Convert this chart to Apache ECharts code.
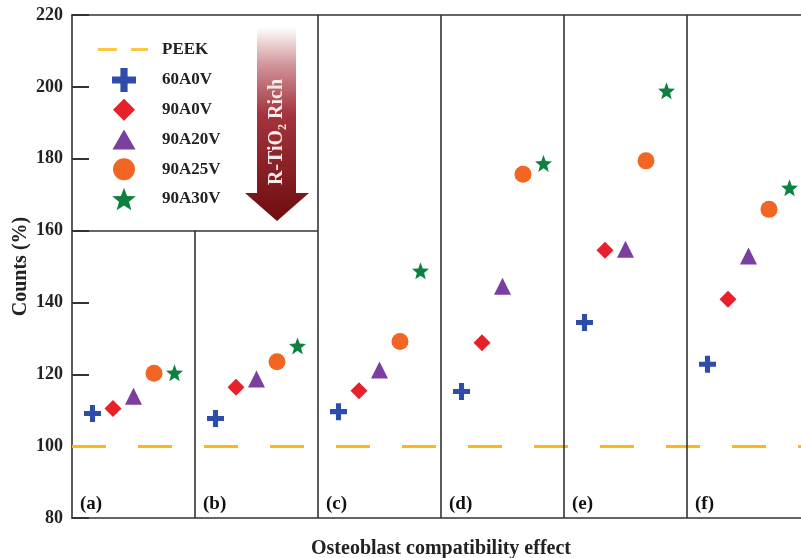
<!DOCTYPE html>
<html>
<head>
<meta charset="utf-8">
<script src="https://cdn.jsdelivr.net/npm/echarts@6/dist/echarts.min.js"></script>
<style>html,body{margin:0;padding:0;background:#fff}#c{width:801px;height:558px}</style>
</head>
<body>
<div id="c"></div>
<script>
// ---- data ----
var panelLabels = ['(a)', '(b)', '(c)', '(d)', '(e)', '(f)'];
var seriesNames = ['60A0V', '90A0V', '90A20V', '90A25V', '90A30V'];
var v60A0V  = [109.1, 107.7, 109.6, 115.2, 134.4, 122.8];
var v90A0V  = [110.5, 116.4, 115.4, 128.8, 154.5, 140.9];
var v90A20V = [113.9, 118.7, 121.2, 144.5, 154.8, 152.9];
var v90A25V = [120.3, 123.5, 129.1, 175.7, 179.4, 165.9];
var v90A30V = [120.4, 127.9, 148.8, 178.7, 198.9, 171.9];
var peekValue = 100;
var yTicks = [80, 100, 120, 140, 160, 180, 200, 220];

// ---- styles ----
var FONT = 'Liberation Serif';
var PEEK_COLOR = '#FDB913';
var colors = ['#2E4DA8', '#E8202A', '#7B3FA0', '#F26522', '#0E8040'];
var PLUS = 'path://M35,0H65V35H100V65H65V100H35V65H0V35H35Z';
var STAR = 'path://M100,0L124.7,66L195.1,69.1L139.9,113L158.8,180.9L100,142L41.2,180.9L60.1,113L4.9,69.1L75.3,66Z';
var symbols = [PLUS, 'diamond', 'triangle', 'circle', STAR];
var values = [v60A0V, v90A0V, v90A20V, v90A25V, v90A30V];

// legend icons drawn in a fixed frame (tiny corner dots pin the frame size)
var FRAME_PEEK = 'M59,1.5h0.01v0.01h-0.01z';
var FRAME = 'M0,0h0.01v0.01h-0.01zM65.99,25.99h0.01v0.01h-0.01z';
var DASHES = 'path://M0,0h19v3h-19zM33,0h17v3h-17z' + FRAME_PEEK;
var legendIcons = [
  'path://M29.4,1H36.6V9.4H45V16.6H36.6V25H29.4V16.6H21V9.4H29.4Z' + FRAME,
  'path://M33,2L44,13L33,24L22,13Z' + FRAME,
  'path://M33,3L44.5,23L21.5,23Z' + FRAME,
  'path://M44,13A11,11 0 1 1 22,13A11,11 0 1 1 44,13Z' + FRAME,
  'path://M33,1.7L36.09,9.95L44.89,10.34L37.99,15.83L40.35,24.31L33,19.45L25.65,24.31L28.01,15.83L21.11,10.34L29.91,9.95Z' + FRAME
];

var series = [];
// PEEK baseline (markLine on a scatter series so the legend icon can be custom)
series.push({
  name: 'PEEK', type: 'scatter', data: [], z: 5,
  itemStyle: { color: PEEK_COLOR },
  markLine: { silent: true, symbol: 'none', label: { show: false }, animation: false,
    lineStyle: { color: PEEK_COLOR, width: 3, type: [34, 32] },
    data: [[{ coord: [0, peekValue] }, { coord: [6, peekValue] }]] }
});
// panel separators
var sepData = [];
for (var p = 1; p < panelLabels.length; p++) {
  sepData.push([{ coord: [p, yTicks[0]] }, { coord: [p, p === 1 ? 160 : yTicks[yTicks.length - 1]] }]);
}
sepData.push([{ coord: [0, 160] }, { coord: [2, 160] }]);
series.push({
  name: 'sep', type: 'scatter', data: [], silent: true, z: 3,
  markLine: { silent: true, symbol: 'none', label: { show: false },
    lineStyle: { color: '#333', width: 1.6, type: 'solid' }, data: sepData, animation: false }
});
// marker series
for (var k = 0; k < seriesNames.length; k++) {
  var d = [];
  for (var i = 0; i < panelLabels.length; i++) d.push([i + (k + 1) / 6, values[k][i]]);
  series.push({
    name: seriesNames[k], type: 'scatter', symbol: symbols[k], symbolSize: 17, z: 10,
    itemStyle: { color: colors[k], opacity: 1 }, data: d
  });
}
// panel labels
var lab = [];
for (var i = 0; i < panelLabels.length; i++) lab.push({ value: [i + 0.065, 83.8], name: panelLabels[i] });
series.push({
  name: 'labels', type: 'scatter', symbolSize: 0, silent: true, data: lab,
  itemStyle: { opacity: 1, color: '#111' },
  label: { show: true, position: 'right', distance: 0, opacity: 1, formatter: function (p) { return p.name; },
    fontFamily: FONT, fontWeight: 'bold', fontSize: 19, color: '#111' }
});

var legendText = { fontFamily: FONT, fontWeight: 'bold', fontSize: 17, color: '#222' };
var legendData = seriesNames.map(function (n, k) {
  return { name: n, icon: legendIcons[k], itemStyle: { color: colors[k] } };
});
var option = {
  animation: false,
  backgroundColor: '#fff',
  grid: { left: 72, top: 15, right: -9, bottom: 40, outerBoundsMode: 'none', containLabel: false, show: false },
  xAxis: [{
    type: 'value', min: 0, max: 6, interval: 1, position: 'bottom',
    axisLine: { show: true, onZero: false, lineStyle: { color: '#333', width: 1.6 } },
    axisTick: { show: false }, axisLabel: { show: false }, splitLine: { show: false },
    name: 'Osteoblast compatibility effect', nameLocation: 'middle', nameGap: 21, nameMoveOverlap: false,
    nameTextStyle: { fontFamily: FONT, fontWeight: 'bold', fontSize: 20, color: '#222' }
  }, {
    type: 'value', min: 0, max: 6, interval: 1, position: 'top',
    axisLine: { show: true, onZero: false, lineStyle: { color: '#333', width: 1.6 } },
    axisTick: { show: false }, axisLabel: { show: false }, splitLine: { show: false }
  }],
  yAxis: {
    type: 'value', min: 80, max: 220, interval: 20,
    axisLine: { show: true, onZero: false, lineStyle: { color: '#333', width: 1.6 } },
    axisTick: { show: true, inside: true, length: 17, lineStyle: { color: '#333', width: 2 } },
    axisLabel: { margin: 9, fontFamily: FONT, fontWeight: 'bold', fontSize: 18, color: '#222' },
    splitLine: { show: false },
    name: 'Counts (%)', nameLocation: 'middle', nameGap: 41, nameMoveOverlap: false,
    nameTextStyle: { fontFamily: FONT, fontWeight: 'bold', fontSize: 20, color: '#222' }
  },
  legend: [
    { data: [{ name: 'PEEK', icon: DASHES, itemStyle: { color: PEEK_COLOR } }],
      left: 98, top: 41, padding: 0, itemWidth: 59, itemHeight: 14,
      textStyle: legendText, selectedMode: false },
    { data: legendData, orient: 'vertical', left: 91, top: 67, padding: 0, itemWidth: 66, itemHeight: 26, itemGap: 3.75,
      textStyle: legendText, selectedMode: false }
  ],
  graphic: [
    { type: 'polygon', z: 20,
      shape: { points: [[257, 27], [296, 27], [296, 193], [309, 193], [277, 221], [245, 193], [257, 193]] },
      style: { fill: new echarts.graphic.LinearGradient(0, 0, 0, 1, [
        { offset: 0, color: '#ffffff' },
        { offset: 0.2, color: '#cf9398' },
        { offset: 0.45, color: '#a3343d' },
        { offset: 1, color: '#6e0d0f' }]) } },
    { type: 'text', z: 21, x: 277, y: 132, rotation: Math.PI / 2,
      style: { text: '{a|R-TiO}{s|2}{a| Rich}', align: 'center', verticalAlign: 'middle', fill: '#fbeaea',
        rich: { a: { fontFamily: FONT, fontWeight: 'bold', fontSize: 20, fill: '#fbeaea' },
                s: { fontFamily: FONT, fontWeight: 'bold', fontSize: 12, fill: '#fbeaea', padding: [12, 0, 0, 0] } } } }
  ],
  series: series
};
var chart = echarts.init(document.getElementById('c'), null, { renderer: 'canvas' });
chart.setOption(option);
</script>
</body>
</html>
